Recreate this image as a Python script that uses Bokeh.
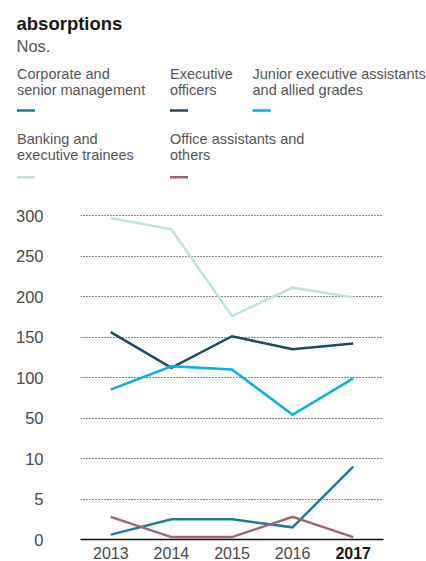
from bokeh.plotting import figure
from bokeh.layouts import column, row
from bokeh.models import Range1d, FixedTicker, ColumnDataSource, LinearAxis
from bokeh.core.properties import value
from bokeh.embed import file_html
from bokeh.resources import INLINE

# ---------------- data ----------------
years = [2013, 2014, 2015, 2016, 2017]
corporate = [0.6, 2.5, 2.5, 1.5, 9]
executive = [156, 112, 151, 135, 142]
junior = [85, 114, 110, 54, 99]
banking = [297, 283, 176, 211, 199]
office = [2.8, 0.3, 0.3, 2.8, 0.3]

series_names = ["Corporate and\nsenior management", "Executive\nofficers",
                "Junior executive assistants\nand allied grades",
                "Banking and\nexecutive trainees", "Office assistants and\nothers"]
series_colors = ["#1a7ba5", "#1c4b5f", "#00b0f0", "#bfe4dd", "#a4666d"]
series_values = [corporate, executive, junior, banking, office]

tick_values = [0, 5, 10, 50, 100, 150, 200, 250, 300]
title_text = "absorptions"
unit_text = "Nos."

FONT = "Liberation Sans"
TXT = "#4a4a4a"
W, H = 426, 561
H1 = 196


def pos(v):
    # broken axis: 0-10 on lower part (5 per step), 50-300 on upper part (50 per step)
    return v / 5.0 if v <= 10 else 3.0 + (v - 50) / 50.0


# ---------------- header (title + legend) ----------------
hdr = figure(width=W, height=H1, x_range=Range1d(0, W), y_range=Range1d(H1, 0),
             output_backend="svg", toolbar_location=None,
             x_axis_location=None, y_axis_location=None, min_border=0)
hdr.outline_line_color = None
hdr.xgrid.visible = False
hdr.ygrid.visible = False

hdr.text(x=[16], y=[22.7], text=[title_text], text_font=value(FONT), text_font_style="bold",
         text_font_size="18.5px", text_color="#1a1a1a", text_baseline="alphabetic")
hdr.text(x=[16], y=[45], text=[unit_text], text_font=value(FONT),
         text_font_size="16.5px", text_color="#555555", text_baseline="alphabetic")

col_x = [16.5, 169.5, 252, 16.5, 169.5]
row_base = [73.3, 73.3, 73.3, 138.3, 138.3]
row_mark = [110, 110, 110, 176.7, 176.7]
tx, ty, tt = [], [], []
for i, name in enumerate(series_names):
    for j, line in enumerate(name.split("\n")):
        tx.append(col_x[i]); ty.append(row_base[i] + j * 15.8); tt.append(line)
hdr.text(x=tx, y=ty, text=tt, text_font=value(FONT), text_font_size="14.5px",
         text_color="#555555", text_baseline="alphabetic")
hdr.segment(x0=col_x, x1=[c + 18 for c in col_x], y0=row_mark, y1=row_mark,
            line_color=series_colors, line_width=2.5, line_cap="butt")

# ---------------- main chart ----------------
main = figure(width=W, height=H - H1, x_range=Range1d(2012.5, 2017.5),
              y_range=Range1d(0, 8.2), output_backend="svg", toolbar_location=None,
              min_border_left=80, min_border_right=43, min_border_top=11, min_border_bottom=22)
main.outline_line_color = None
main.xgrid.visible = False
main.ygrid.grid_line_color = "#111111"
main.ygrid.grid_line_dash = "1 2"
main.ygrid.grid_line_width = 1
main.ygrid.ticker = FixedTicker(ticks=[pos(t) for t in tick_values])

main.yaxis.ticker = FixedTicker(ticks=[pos(t) for t in tick_values])
main.yaxis.major_label_overrides = {pos(t): str(t) for t in tick_values}
main.yaxis.axis_line_color = None
main.yaxis.major_tick_line_color = None
main.yaxis.minor_tick_line_color = None
main.yaxis.major_label_standoff = 31
main.yaxis.major_label_text_font = FONT
main.yaxis.major_label_text_font_size = "16.5px"
main.yaxis.major_label_text_color = TXT

# normal year labels
main.xaxis.ticker = FixedTicker(ticks=years[:-1])
main.xaxis.axis_line_color = "#111111"
main.xaxis.axis_line_width = 1.5
main.xaxis.major_tick_line_color = None
main.xaxis.minor_tick_line_color = None
main.xaxis.major_label_standoff = 1
main.xaxis.major_label_text_font = FONT
main.xaxis.major_label_text_font_size = "16px"
main.xaxis.major_label_text_color = TXT

# bold label for the latest year, pulled up to the same row
bold_axis = LinearAxis(ticker=FixedTicker(ticks=years[-1:]), axis_line_color=None,
                       major_tick_line_color=None, minor_tick_line_color=None,
                       major_label_standoff=-21, major_label_text_font=FONT,
                       major_label_text_font_size="16px", major_label_text_font_style="bold",
                       major_label_text_color="#1a1a1a")
main.add_layout(bold_axis, "below")

for vals, col in zip(series_values, series_colors):
    src = ColumnDataSource(dict(x=years, y=[pos(v) for v in vals]))
    main.line("x", "y", source=src, line_color=col, line_width=2.5, line_join="miter")

layout = column(row(hdr), row(main), spacing=0)
open("out.html", "w").write(file_html(layout, INLINE))
